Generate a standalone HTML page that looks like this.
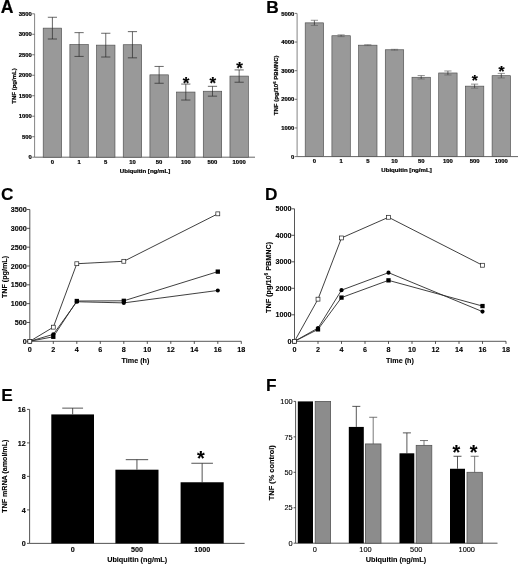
<!DOCTYPE html>
<html lang="en">
<head>
<meta charset="utf-8">
<title>Figure</title>
<style>
html,body{margin:0;padding:0;background:#fff;}
body{width:520px;height:565px;overflow:hidden;}
svg{display:block;}
svg text{font-family:"Liberation Sans", Arial, sans-serif;fill:#000;}
svg .ab text{stroke:#000;stroke-width:0.22px;}
svg .cf text{stroke:#000;stroke-width:0.12px;}
</style>
</head>
<body>
<svg width="520" height="565" viewBox="0 0 520 565">
<rect x="0" y="0" width="520" height="565" fill="#ffffff"/>
<g filter="url(#soft)">
<g class="ab">
<text x="0.70" y="13.20" font-size="17.6" font-weight="bold" text-anchor="start">A</text>
<line x1="34.60" y1="13.80" x2="34.60" y2="157.20" stroke="#777" stroke-width="0.9"/>
<line x1="34.60" y1="157.20" x2="255.00" y2="157.20" stroke="#555" stroke-width="0.9"/>
<line x1="32.20" y1="157.20" x2="34.60" y2="157.20" stroke="#555" stroke-width="0.8"/>
<text x="31.90" y="159.30" font-size="5.9" font-weight="bold" text-anchor="end">0</text>
<line x1="32.20" y1="136.71" x2="34.60" y2="136.71" stroke="#555" stroke-width="0.8"/>
<text x="31.90" y="138.81" font-size="5.9" font-weight="bold" text-anchor="end">500</text>
<line x1="32.20" y1="116.23" x2="34.60" y2="116.23" stroke="#555" stroke-width="0.8"/>
<text x="31.90" y="118.33" font-size="5.9" font-weight="bold" text-anchor="end">1000</text>
<line x1="32.20" y1="95.74" x2="34.60" y2="95.74" stroke="#555" stroke-width="0.8"/>
<text x="31.90" y="97.84" font-size="5.9" font-weight="bold" text-anchor="end">1500</text>
<line x1="32.20" y1="75.26" x2="34.60" y2="75.26" stroke="#555" stroke-width="0.8"/>
<text x="31.90" y="77.36" font-size="5.9" font-weight="bold" text-anchor="end">2000</text>
<line x1="32.20" y1="54.77" x2="34.60" y2="54.77" stroke="#555" stroke-width="0.8"/>
<text x="31.90" y="56.87" font-size="5.9" font-weight="bold" text-anchor="end">2500</text>
<line x1="32.20" y1="34.29" x2="34.60" y2="34.29" stroke="#555" stroke-width="0.8"/>
<text x="31.90" y="36.39" font-size="5.9" font-weight="bold" text-anchor="end">3000</text>
<line x1="32.20" y1="13.80" x2="34.60" y2="13.80" stroke="#555" stroke-width="0.8"/>
<text x="31.90" y="15.90" font-size="5.9" font-weight="bold" text-anchor="end">3500</text>
<rect x="43.20" y="28.14" width="18.40" height="129.06" fill="#999999" stroke="#4d4d4d" stroke-width="0.65"/>
<line x1="52.40" y1="17.28" x2="52.40" y2="39.00" stroke="#2a2a2a" stroke-width="0.7"/>
<line x1="47.80" y1="17.28" x2="57.00" y2="17.28" stroke="#2a2a2a" stroke-width="0.7"/>
<line x1="47.80" y1="39.00" x2="57.00" y2="39.00" stroke="#2a2a2a" stroke-width="0.7"/>
<text x="52.40" y="163.60" font-size="5.9" font-weight="bold" text-anchor="middle">0</text>
<rect x="69.88" y="44.53" width="18.40" height="112.67" fill="#999999" stroke="#4d4d4d" stroke-width="0.65"/>
<line x1="79.08" y1="32.65" x2="79.08" y2="56.41" stroke="#2a2a2a" stroke-width="0.7"/>
<line x1="74.48" y1="32.65" x2="83.68" y2="32.65" stroke="#2a2a2a" stroke-width="0.7"/>
<line x1="74.48" y1="56.41" x2="83.68" y2="56.41" stroke="#2a2a2a" stroke-width="0.7"/>
<text x="79.08" y="163.60" font-size="5.9" font-weight="bold" text-anchor="middle">1</text>
<rect x="96.56" y="45.14" width="18.40" height="112.06" fill="#999999" stroke="#4d4d4d" stroke-width="0.65"/>
<line x1="105.76" y1="33.26" x2="105.76" y2="57.02" stroke="#2a2a2a" stroke-width="0.7"/>
<line x1="101.16" y1="33.26" x2="110.36" y2="33.26" stroke="#2a2a2a" stroke-width="0.7"/>
<line x1="101.16" y1="57.02" x2="110.36" y2="57.02" stroke="#2a2a2a" stroke-width="0.7"/>
<text x="105.76" y="163.60" font-size="5.9" font-weight="bold" text-anchor="middle">5</text>
<rect x="123.24" y="44.73" width="18.40" height="112.47" fill="#999999" stroke="#4d4d4d" stroke-width="0.65"/>
<line x1="132.44" y1="31.62" x2="132.44" y2="57.84" stroke="#2a2a2a" stroke-width="0.7"/>
<line x1="127.84" y1="31.62" x2="137.04" y2="31.62" stroke="#2a2a2a" stroke-width="0.7"/>
<line x1="127.84" y1="57.84" x2="137.04" y2="57.84" stroke="#2a2a2a" stroke-width="0.7"/>
<text x="132.44" y="163.60" font-size="5.9" font-weight="bold" text-anchor="middle">10</text>
<rect x="149.92" y="74.85" width="18.40" height="82.35" fill="#999999" stroke="#4d4d4d" stroke-width="0.65"/>
<line x1="159.12" y1="66.45" x2="159.12" y2="83.25" stroke="#2a2a2a" stroke-width="0.7"/>
<line x1="154.52" y1="66.45" x2="163.72" y2="66.45" stroke="#2a2a2a" stroke-width="0.7"/>
<line x1="154.52" y1="83.25" x2="163.72" y2="83.25" stroke="#2a2a2a" stroke-width="0.7"/>
<text x="159.12" y="163.60" font-size="5.9" font-weight="bold" text-anchor="middle">50</text>
<rect x="176.60" y="92.06" width="18.40" height="65.14" fill="#999999" stroke="#4d4d4d" stroke-width="0.65"/>
<line x1="185.80" y1="84.07" x2="185.80" y2="100.04" stroke="#2a2a2a" stroke-width="0.7"/>
<line x1="181.20" y1="84.07" x2="190.40" y2="84.07" stroke="#2a2a2a" stroke-width="0.7"/>
<line x1="181.20" y1="100.04" x2="190.40" y2="100.04" stroke="#2a2a2a" stroke-width="0.7"/>
<text x="185.80" y="163.60" font-size="5.9" font-weight="bold" text-anchor="middle">100</text>
<text x="186.10" y="89.22" font-size="17" font-weight="bold" text-anchor="middle">*</text>
<rect x="203.28" y="91.24" width="18.40" height="65.96" fill="#999999" stroke="#4d4d4d" stroke-width="0.65"/>
<line x1="212.48" y1="86.32" x2="212.48" y2="96.15" stroke="#2a2a2a" stroke-width="0.7"/>
<line x1="207.88" y1="86.32" x2="217.08" y2="86.32" stroke="#2a2a2a" stroke-width="0.7"/>
<line x1="207.88" y1="96.15" x2="217.08" y2="96.15" stroke="#2a2a2a" stroke-width="0.7"/>
<text x="212.48" y="163.60" font-size="5.9" font-weight="bold" text-anchor="middle">500</text>
<text x="212.78" y="89.22" font-size="17" font-weight="bold" text-anchor="middle">*</text>
<rect x="229.96" y="76.08" width="18.40" height="81.12" fill="#999999" stroke="#4d4d4d" stroke-width="0.65"/>
<line x1="239.16" y1="69.93" x2="239.16" y2="82.22" stroke="#2a2a2a" stroke-width="0.7"/>
<line x1="234.56" y1="69.93" x2="243.76" y2="69.93" stroke="#2a2a2a" stroke-width="0.7"/>
<line x1="234.56" y1="82.22" x2="243.76" y2="82.22" stroke="#2a2a2a" stroke-width="0.7"/>
<text x="239.16" y="163.60" font-size="5.9" font-weight="bold" text-anchor="middle">1000</text>
<text x="239.46" y="73.62" font-size="17" font-weight="bold" text-anchor="middle">*</text>
<text x="145.00" y="172.70" font-size="6.1" font-weight="bold" text-anchor="middle">Ubiquitin [ng/mL]</text>
<text x="16.20" y="86.00" font-size="6.05" font-weight="bold" text-anchor="middle" transform="rotate(-90 16.20 86.00)">TNF (pg/mL)</text>
<text x="266.30" y="13.20" font-size="17.3" font-weight="bold" text-anchor="start">B</text>
<line x1="297.10" y1="13.50" x2="297.10" y2="156.60" stroke="#777" stroke-width="0.9"/>
<line x1="297.10" y1="156.60" x2="518.00" y2="156.60" stroke="#555" stroke-width="0.9"/>
<line x1="294.70" y1="156.60" x2="297.10" y2="156.60" stroke="#555" stroke-width="0.8"/>
<text x="294.40" y="158.70" font-size="5.9" font-weight="bold" text-anchor="end">0</text>
<line x1="294.70" y1="127.96" x2="297.10" y2="127.96" stroke="#555" stroke-width="0.8"/>
<text x="294.40" y="130.06" font-size="5.9" font-weight="bold" text-anchor="end">1000</text>
<line x1="294.70" y1="99.32" x2="297.10" y2="99.32" stroke="#555" stroke-width="0.8"/>
<text x="294.40" y="101.42" font-size="5.9" font-weight="bold" text-anchor="end">2000</text>
<line x1="294.70" y1="70.68" x2="297.10" y2="70.68" stroke="#555" stroke-width="0.8"/>
<text x="294.40" y="72.78" font-size="5.9" font-weight="bold" text-anchor="end">3000</text>
<line x1="294.70" y1="42.04" x2="297.10" y2="42.04" stroke="#555" stroke-width="0.8"/>
<text x="294.40" y="44.14" font-size="5.9" font-weight="bold" text-anchor="end">4000</text>
<line x1="294.70" y1="13.40" x2="297.10" y2="13.40" stroke="#555" stroke-width="0.8"/>
<text x="294.40" y="15.50" font-size="5.9" font-weight="bold" text-anchor="end">5000</text>
<rect x="305.20" y="22.85" width="18.40" height="133.75" fill="#999999" stroke="#4d4d4d" stroke-width="0.65"/>
<line x1="314.40" y1="20.27" x2="314.40" y2="25.43" stroke="#2a2a2a" stroke-width="0.7"/>
<line x1="310.80" y1="20.27" x2="318.00" y2="20.27" stroke="#666" stroke-width="0.7"/>
<line x1="310.80" y1="25.43" x2="318.00" y2="25.43" stroke="#666" stroke-width="0.7"/>
<text x="314.40" y="163.00" font-size="5.9" font-weight="bold" text-anchor="middle">0</text>
<rect x="331.90" y="35.74" width="18.40" height="120.86" fill="#999999" stroke="#4d4d4d" stroke-width="0.65"/>
<line x1="341.10" y1="34.88" x2="341.10" y2="36.60" stroke="#2a2a2a" stroke-width="0.7"/>
<line x1="337.50" y1="34.88" x2="344.70" y2="34.88" stroke="#666" stroke-width="0.7"/>
<line x1="337.50" y1="36.60" x2="344.70" y2="36.60" stroke="#666" stroke-width="0.7"/>
<text x="341.10" y="163.00" font-size="5.9" font-weight="bold" text-anchor="middle">1</text>
<rect x="358.60" y="45.19" width="18.40" height="111.41" fill="#999999" stroke="#4d4d4d" stroke-width="0.65"/>
<line x1="367.80" y1="44.76" x2="367.80" y2="45.62" stroke="#2a2a2a" stroke-width="0.7"/>
<line x1="364.20" y1="44.76" x2="371.40" y2="44.76" stroke="#666" stroke-width="0.7"/>
<line x1="364.20" y1="45.62" x2="371.40" y2="45.62" stroke="#666" stroke-width="0.7"/>
<text x="367.80" y="163.00" font-size="5.9" font-weight="bold" text-anchor="middle">5</text>
<rect x="385.30" y="49.77" width="18.40" height="106.83" fill="#999999" stroke="#4d4d4d" stroke-width="0.65"/>
<line x1="394.50" y1="49.34" x2="394.50" y2="50.20" stroke="#2a2a2a" stroke-width="0.7"/>
<line x1="390.90" y1="49.34" x2="398.10" y2="49.34" stroke="#666" stroke-width="0.7"/>
<line x1="390.90" y1="50.20" x2="398.10" y2="50.20" stroke="#666" stroke-width="0.7"/>
<text x="394.50" y="163.00" font-size="5.9" font-weight="bold" text-anchor="middle">10</text>
<rect x="412.00" y="77.27" width="18.40" height="79.33" fill="#999999" stroke="#4d4d4d" stroke-width="0.65"/>
<line x1="421.20" y1="75.55" x2="421.20" y2="78.99" stroke="#2a2a2a" stroke-width="0.7"/>
<line x1="417.60" y1="75.55" x2="424.80" y2="75.55" stroke="#666" stroke-width="0.7"/>
<line x1="417.60" y1="78.99" x2="424.80" y2="78.99" stroke="#666" stroke-width="0.7"/>
<text x="421.20" y="163.00" font-size="5.9" font-weight="bold" text-anchor="middle">50</text>
<rect x="438.70" y="72.97" width="18.40" height="83.63" fill="#999999" stroke="#4d4d4d" stroke-width="0.65"/>
<line x1="447.90" y1="70.97" x2="447.90" y2="74.98" stroke="#2a2a2a" stroke-width="0.7"/>
<line x1="444.30" y1="70.97" x2="451.50" y2="70.97" stroke="#666" stroke-width="0.7"/>
<line x1="444.30" y1="74.98" x2="451.50" y2="74.98" stroke="#666" stroke-width="0.7"/>
<text x="447.90" y="163.00" font-size="5.9" font-weight="bold" text-anchor="middle">100</text>
<rect x="465.40" y="86.15" width="18.40" height="70.45" fill="#999999" stroke="#4d4d4d" stroke-width="0.65"/>
<line x1="474.60" y1="84.14" x2="474.60" y2="88.15" stroke="#2a2a2a" stroke-width="0.7"/>
<line x1="471.00" y1="84.14" x2="478.20" y2="84.14" stroke="#666" stroke-width="0.7"/>
<line x1="471.00" y1="88.15" x2="478.20" y2="88.15" stroke="#666" stroke-width="0.7"/>
<text x="474.60" y="163.00" font-size="5.9" font-weight="bold" text-anchor="middle">500</text>
<text x="474.70" y="85.14" font-size="15.5" font-weight="bold" text-anchor="middle">*</text>
<rect x="492.10" y="75.69" width="18.40" height="80.91" fill="#999999" stroke="#4d4d4d" stroke-width="0.65"/>
<line x1="501.30" y1="73.40" x2="501.30" y2="77.98" stroke="#2a2a2a" stroke-width="0.7"/>
<line x1="497.70" y1="73.40" x2="504.90" y2="73.40" stroke="#666" stroke-width="0.7"/>
<line x1="497.70" y1="77.98" x2="504.90" y2="77.98" stroke="#666" stroke-width="0.7"/>
<text x="501.30" y="163.00" font-size="5.9" font-weight="bold" text-anchor="middle">1000</text>
<text x="501.40" y="75.64" font-size="15.5" font-weight="bold" text-anchor="middle">*</text>
<text x="406.50" y="172.40" font-size="6.1" font-weight="bold" text-anchor="middle">Ubiquitin [ng/mL]</text>
<text x="278" y="85.3" font-size="6.1" font-weight="bold" text-anchor="middle" transform="rotate(-90 278 85.3)">TNF (pg/10<tspan font-size="4.2" dy="-2.2">6</tspan><tspan dy="2.2"> PBMNC)</tspan></text>
</g>
<g class="cf">
<text x="1.00" y="200.20" font-size="17.3" font-weight="bold" text-anchor="start">C</text>
<line x1="29.80" y1="209.50" x2="29.80" y2="341.30" stroke="#2a2a2a" stroke-width="0.8"/>
<line x1="29.80" y1="341.30" x2="241.30" y2="341.30" stroke="#2a2a2a" stroke-width="0.8"/>
<line x1="26.80" y1="341.30" x2="29.80" y2="341.30" stroke="#2a2a2a" stroke-width="0.8"/>
<text x="26.80" y="343.90" font-size="7.2" font-weight="bold" text-anchor="end">0</text>
<line x1="26.80" y1="322.47" x2="29.80" y2="322.47" stroke="#2a2a2a" stroke-width="0.8"/>
<text x="26.80" y="325.07" font-size="7.2" font-weight="bold" text-anchor="end">500</text>
<line x1="26.80" y1="303.64" x2="29.80" y2="303.64" stroke="#2a2a2a" stroke-width="0.8"/>
<text x="26.80" y="306.24" font-size="7.2" font-weight="bold" text-anchor="end">1000</text>
<line x1="26.80" y1="284.81" x2="29.80" y2="284.81" stroke="#2a2a2a" stroke-width="0.8"/>
<text x="26.80" y="287.41" font-size="7.2" font-weight="bold" text-anchor="end">1500</text>
<line x1="26.80" y1="265.99" x2="29.80" y2="265.99" stroke="#2a2a2a" stroke-width="0.8"/>
<text x="26.80" y="268.59" font-size="7.2" font-weight="bold" text-anchor="end">2000</text>
<line x1="26.80" y1="247.16" x2="29.80" y2="247.16" stroke="#2a2a2a" stroke-width="0.8"/>
<text x="26.80" y="249.76" font-size="7.2" font-weight="bold" text-anchor="end">2500</text>
<line x1="26.80" y1="228.33" x2="29.80" y2="228.33" stroke="#2a2a2a" stroke-width="0.8"/>
<text x="26.80" y="230.93" font-size="7.2" font-weight="bold" text-anchor="end">3000</text>
<line x1="26.80" y1="209.50" x2="29.80" y2="209.50" stroke="#2a2a2a" stroke-width="0.8"/>
<text x="26.80" y="212.10" font-size="7.2" font-weight="bold" text-anchor="end">3500</text>
<line x1="29.80" y1="341.30" x2="29.80" y2="343.90" stroke="#2a2a2a" stroke-width="0.8"/>
<text x="29.80" y="351.70" font-size="7.2" font-weight="bold" text-anchor="middle">0</text>
<line x1="53.30" y1="341.30" x2="53.30" y2="343.90" stroke="#2a2a2a" stroke-width="0.8"/>
<text x="53.30" y="351.70" font-size="7.2" font-weight="bold" text-anchor="middle">2</text>
<line x1="76.80" y1="341.30" x2="76.80" y2="343.90" stroke="#2a2a2a" stroke-width="0.8"/>
<text x="76.80" y="351.70" font-size="7.2" font-weight="bold" text-anchor="middle">4</text>
<line x1="100.30" y1="341.30" x2="100.30" y2="343.90" stroke="#2a2a2a" stroke-width="0.8"/>
<text x="100.30" y="351.70" font-size="7.2" font-weight="bold" text-anchor="middle">6</text>
<line x1="123.80" y1="341.30" x2="123.80" y2="343.90" stroke="#2a2a2a" stroke-width="0.8"/>
<text x="123.80" y="351.70" font-size="7.2" font-weight="bold" text-anchor="middle">8</text>
<line x1="147.30" y1="341.30" x2="147.30" y2="343.90" stroke="#2a2a2a" stroke-width="0.8"/>
<text x="147.30" y="351.70" font-size="7.2" font-weight="bold" text-anchor="middle">10</text>
<line x1="170.80" y1="341.30" x2="170.80" y2="343.90" stroke="#2a2a2a" stroke-width="0.8"/>
<text x="170.80" y="351.70" font-size="7.2" font-weight="bold" text-anchor="middle">12</text>
<line x1="194.30" y1="341.30" x2="194.30" y2="343.90" stroke="#2a2a2a" stroke-width="0.8"/>
<text x="194.30" y="351.70" font-size="7.2" font-weight="bold" text-anchor="middle">14</text>
<line x1="217.80" y1="341.30" x2="217.80" y2="343.90" stroke="#2a2a2a" stroke-width="0.8"/>
<text x="217.80" y="351.70" font-size="7.2" font-weight="bold" text-anchor="middle">16</text>
<line x1="241.30" y1="341.30" x2="241.30" y2="343.90" stroke="#2a2a2a" stroke-width="0.8"/>
<text x="241.30" y="351.70" font-size="7.2" font-weight="bold" text-anchor="middle">18</text>
<text x="135.50" y="363.10" font-size="7.2" font-weight="bold" text-anchor="middle">Time (h)</text>
<polyline fill="none" stroke="#2a2a2a" stroke-width="0.9" points="29.80,341.30 53.30,334.33 76.80,301.76 123.80,302.89 217.80,290.46"/>
<polyline fill="none" stroke="#2a2a2a" stroke-width="0.9" points="29.80,341.30 53.30,336.78 76.80,301.01 123.80,300.82 217.80,271.63"/>
<polyline fill="none" stroke="#2a2a2a" stroke-width="0.9" points="29.80,341.30 53.30,327.18 76.80,263.73 123.80,261.28 217.80,213.83"/>
<circle cx="29.80" cy="341.30" r="2.05" fill="#000"/>
<circle cx="53.30" cy="334.33" r="2.05" fill="#000"/>
<circle cx="76.80" cy="301.76" r="2.05" fill="#000"/>
<circle cx="123.80" cy="302.89" r="2.05" fill="#000"/>
<circle cx="217.80" cy="290.46" r="2.05" fill="#000"/>
<rect x="27.65" y="339.15" width="4.30" height="4.30" fill="#000"/>
<rect x="51.15" y="334.63" width="4.30" height="4.30" fill="#000"/>
<rect x="74.65" y="298.86" width="4.30" height="4.30" fill="#000"/>
<rect x="121.65" y="298.67" width="4.30" height="4.30" fill="#000"/>
<rect x="215.65" y="269.48" width="4.30" height="4.30" fill="#000"/>
<rect x="27.85" y="339.35" width="3.90" height="3.90" fill="#fff" stroke="#222" stroke-width="0.7"/>
<rect x="51.35" y="325.23" width="3.90" height="3.90" fill="#fff" stroke="#222" stroke-width="0.7"/>
<rect x="74.85" y="261.78" width="3.90" height="3.90" fill="#fff" stroke="#222" stroke-width="0.7"/>
<rect x="121.85" y="259.33" width="3.90" height="3.90" fill="#fff" stroke="#222" stroke-width="0.7"/>
<rect x="215.85" y="211.88" width="3.90" height="3.90" fill="#fff" stroke="#222" stroke-width="0.7"/>
<text x="7.00" y="277.00" font-size="7.15" font-weight="bold" text-anchor="middle" transform="rotate(-90 7.00 277.00)">TNF (pg/mL)</text>
<text x="265.00" y="200.20" font-size="17.3" font-weight="bold" text-anchor="start">D</text>
<line x1="294.50" y1="208.80" x2="294.50" y2="341.30" stroke="#2a2a2a" stroke-width="0.8"/>
<line x1="294.50" y1="341.30" x2="506.00" y2="341.30" stroke="#2a2a2a" stroke-width="0.8"/>
<line x1="291.50" y1="341.30" x2="294.50" y2="341.30" stroke="#2a2a2a" stroke-width="0.8"/>
<text x="291.50" y="343.90" font-size="7.2" font-weight="bold" text-anchor="end">0</text>
<line x1="291.50" y1="314.80" x2="294.50" y2="314.80" stroke="#2a2a2a" stroke-width="0.8"/>
<text x="291.50" y="317.40" font-size="7.2" font-weight="bold" text-anchor="end">1000</text>
<line x1="291.50" y1="288.30" x2="294.50" y2="288.30" stroke="#2a2a2a" stroke-width="0.8"/>
<text x="291.50" y="290.90" font-size="7.2" font-weight="bold" text-anchor="end">2000</text>
<line x1="291.50" y1="261.80" x2="294.50" y2="261.80" stroke="#2a2a2a" stroke-width="0.8"/>
<text x="291.50" y="264.40" font-size="7.2" font-weight="bold" text-anchor="end">3000</text>
<line x1="291.50" y1="235.30" x2="294.50" y2="235.30" stroke="#2a2a2a" stroke-width="0.8"/>
<text x="291.50" y="237.90" font-size="7.2" font-weight="bold" text-anchor="end">4000</text>
<line x1="291.50" y1="208.80" x2="294.50" y2="208.80" stroke="#2a2a2a" stroke-width="0.8"/>
<text x="291.50" y="211.40" font-size="7.2" font-weight="bold" text-anchor="end">5000</text>
<line x1="294.50" y1="341.30" x2="294.50" y2="343.90" stroke="#2a2a2a" stroke-width="0.8"/>
<text x="294.50" y="351.70" font-size="7.2" font-weight="bold" text-anchor="middle">0</text>
<line x1="318.00" y1="341.30" x2="318.00" y2="343.90" stroke="#2a2a2a" stroke-width="0.8"/>
<text x="318.00" y="351.70" font-size="7.2" font-weight="bold" text-anchor="middle">2</text>
<line x1="341.50" y1="341.30" x2="341.50" y2="343.90" stroke="#2a2a2a" stroke-width="0.8"/>
<text x="341.50" y="351.70" font-size="7.2" font-weight="bold" text-anchor="middle">4</text>
<line x1="365.00" y1="341.30" x2="365.00" y2="343.90" stroke="#2a2a2a" stroke-width="0.8"/>
<text x="365.00" y="351.70" font-size="7.2" font-weight="bold" text-anchor="middle">6</text>
<line x1="388.50" y1="341.30" x2="388.50" y2="343.90" stroke="#2a2a2a" stroke-width="0.8"/>
<text x="388.50" y="351.70" font-size="7.2" font-weight="bold" text-anchor="middle">8</text>
<line x1="412.00" y1="341.30" x2="412.00" y2="343.90" stroke="#2a2a2a" stroke-width="0.8"/>
<text x="412.00" y="351.70" font-size="7.2" font-weight="bold" text-anchor="middle">10</text>
<line x1="435.50" y1="341.30" x2="435.50" y2="343.90" stroke="#2a2a2a" stroke-width="0.8"/>
<text x="435.50" y="351.70" font-size="7.2" font-weight="bold" text-anchor="middle">12</text>
<line x1="459.00" y1="341.30" x2="459.00" y2="343.90" stroke="#2a2a2a" stroke-width="0.8"/>
<text x="459.00" y="351.70" font-size="7.2" font-weight="bold" text-anchor="middle">14</text>
<line x1="482.50" y1="341.30" x2="482.50" y2="343.90" stroke="#2a2a2a" stroke-width="0.8"/>
<text x="482.50" y="351.70" font-size="7.2" font-weight="bold" text-anchor="middle">16</text>
<line x1="506.00" y1="341.30" x2="506.00" y2="343.90" stroke="#2a2a2a" stroke-width="0.8"/>
<text x="506.00" y="351.70" font-size="7.2" font-weight="bold" text-anchor="middle">18</text>
<text x="400.00" y="363.10" font-size="7.2" font-weight="bold" text-anchor="middle">Time (h)</text>
<polyline fill="none" stroke="#2a2a2a" stroke-width="0.9" points="294.50,341.30 318.00,329.38 341.50,297.57 388.50,280.35 482.50,306.06"/>
<polyline fill="none" stroke="#2a2a2a" stroke-width="0.9" points="294.50,341.30 318.00,328.05 341.50,290.16 388.50,272.67 482.50,311.62"/>
<polyline fill="none" stroke="#2a2a2a" stroke-width="0.9" points="294.50,341.30 318.00,299.17 341.50,237.95 388.50,217.28 482.50,265.25"/>
<rect x="292.35" y="339.15" width="4.30" height="4.30" fill="#000"/>
<rect x="315.85" y="327.23" width="4.30" height="4.30" fill="#000"/>
<rect x="339.35" y="295.43" width="4.30" height="4.30" fill="#000"/>
<rect x="386.35" y="278.20" width="4.30" height="4.30" fill="#000"/>
<rect x="480.35" y="303.91" width="4.30" height="4.30" fill="#000"/>
<circle cx="294.50" cy="341.30" r="2.05" fill="#000"/>
<circle cx="318.00" cy="328.05" r="2.05" fill="#000"/>
<circle cx="341.50" cy="290.16" r="2.05" fill="#000"/>
<circle cx="388.50" cy="272.67" r="2.05" fill="#000"/>
<circle cx="482.50" cy="311.62" r="2.05" fill="#000"/>
<rect x="292.55" y="339.35" width="3.90" height="3.90" fill="#fff" stroke="#222" stroke-width="0.7"/>
<rect x="316.05" y="297.22" width="3.90" height="3.90" fill="#fff" stroke="#222" stroke-width="0.7"/>
<rect x="339.55" y="236.00" width="3.90" height="3.90" fill="#fff" stroke="#222" stroke-width="0.7"/>
<rect x="386.55" y="215.33" width="3.90" height="3.90" fill="#fff" stroke="#222" stroke-width="0.7"/>
<rect x="480.55" y="263.30" width="3.90" height="3.90" fill="#fff" stroke="#222" stroke-width="0.7"/>
<text x="271.3" y="277.4" font-size="7.25" font-weight="bold" text-anchor="middle" transform="rotate(-90 271.3 277.4)">TNF (pg/10<tspan font-size="4.8" dy="-2.8">6</tspan><tspan dy="2.8"> PBMNC)</tspan></text>
<text x="1.20" y="400.60" font-size="17.3" font-weight="bold" text-anchor="start">E</text>
<line x1="29.60" y1="409.40" x2="29.60" y2="543.40" stroke="#2a2a2a" stroke-width="0.8"/>
<line x1="29.60" y1="543.40" x2="244.60" y2="543.40" stroke="#2a2a2a" stroke-width="0.8"/>
<line x1="27.00" y1="543.40" x2="29.60" y2="543.40" stroke="#2a2a2a" stroke-width="0.8"/>
<text x="25.70" y="546.00" font-size="7.2" font-weight="bold" text-anchor="end">0</text>
<line x1="27.00" y1="509.90" x2="29.60" y2="509.90" stroke="#2a2a2a" stroke-width="0.8"/>
<text x="25.70" y="512.50" font-size="7.2" font-weight="bold" text-anchor="end">4</text>
<line x1="27.00" y1="476.40" x2="29.60" y2="476.40" stroke="#2a2a2a" stroke-width="0.8"/>
<text x="25.70" y="479.00" font-size="7.2" font-weight="bold" text-anchor="end">8</text>
<line x1="27.00" y1="442.90" x2="29.60" y2="442.90" stroke="#2a2a2a" stroke-width="0.8"/>
<text x="25.70" y="445.50" font-size="7.2" font-weight="bold" text-anchor="end">12</text>
<line x1="27.00" y1="409.40" x2="29.60" y2="409.40" stroke="#2a2a2a" stroke-width="0.8"/>
<text x="25.70" y="412.00" font-size="7.2" font-weight="bold" text-anchor="end">16</text>
<rect x="51.30" y="414.42" width="42.70" height="128.98" fill="#000"/>
<line x1="72.65" y1="408.14" x2="72.65" y2="414.42" stroke="#2a2a2a" stroke-width="0.8"/>
<line x1="62.25" y1="408.14" x2="83.05" y2="408.14" stroke="#2a2a2a" stroke-width="0.8"/>
<text x="72.65" y="551.50" font-size="7.2" font-weight="bold" text-anchor="middle">0</text>
<rect x="115.40" y="469.70" width="43.10" height="73.70" fill="#000"/>
<line x1="136.95" y1="459.65" x2="136.95" y2="469.70" stroke="#2a2a2a" stroke-width="0.8"/>
<line x1="125.75" y1="459.65" x2="148.15" y2="459.65" stroke="#2a2a2a" stroke-width="0.8"/>
<text x="136.95" y="551.50" font-size="7.2" font-weight="bold" text-anchor="middle">500</text>
<rect x="180.60" y="482.26" width="43.10" height="61.14" fill="#000"/>
<line x1="202.15" y1="463.25" x2="202.15" y2="482.26" stroke="#2a2a2a" stroke-width="0.8"/>
<line x1="191.35" y1="463.25" x2="212.95" y2="463.25" stroke="#2a2a2a" stroke-width="0.8"/>
<text x="202.15" y="551.50" font-size="7.2" font-weight="bold" text-anchor="middle">1000</text>
<text x="200.80" y="464.59" font-size="19.8" font-weight="bold" text-anchor="middle">*</text>
<text x="137.20" y="561.50" font-size="7.25" font-weight="bold" text-anchor="middle">Ubiquitin (ng/mL)</text>
<text x="6.90" y="476.20" font-size="7.1" font-weight="bold" text-anchor="middle" transform="rotate(-90 6.90 476.20)">TNF mRNA (amol/mL)</text>
<text x="266.00" y="391.30" font-size="17.3" font-weight="bold" text-anchor="start">F</text>
<line x1="295.60" y1="401.30" x2="295.60" y2="543.20" stroke="#2a2a2a" stroke-width="0.8"/>
<line x1="295.60" y1="543.20" x2="497.50" y2="543.20" stroke="#2a2a2a" stroke-width="0.8"/>
<line x1="293.60" y1="543.20" x2="295.60" y2="543.20" stroke="#2a2a2a" stroke-width="0.8"/>
<text x="292.70" y="545.90" font-size="7.4" font-weight="normal" text-anchor="end">0</text>
<line x1="293.60" y1="507.75" x2="295.60" y2="507.75" stroke="#2a2a2a" stroke-width="0.8"/>
<text x="292.70" y="510.45" font-size="7.4" font-weight="normal" text-anchor="end">25</text>
<line x1="293.60" y1="472.30" x2="295.60" y2="472.30" stroke="#2a2a2a" stroke-width="0.8"/>
<text x="292.70" y="475.00" font-size="7.4" font-weight="normal" text-anchor="end">50</text>
<line x1="293.60" y1="436.85" x2="295.60" y2="436.85" stroke="#2a2a2a" stroke-width="0.8"/>
<text x="292.70" y="439.55" font-size="7.4" font-weight="normal" text-anchor="end">75</text>
<line x1="293.60" y1="401.40" x2="295.60" y2="401.40" stroke="#2a2a2a" stroke-width="0.8"/>
<text x="292.70" y="404.10" font-size="7.4" font-weight="normal" text-anchor="end">100</text>
<rect x="297.80" y="401.40" width="15.20" height="141.80" fill="#000"/>
<rect x="315.20" y="401.40" width="15.40" height="141.80" fill="#8c8c8c" stroke="#555" stroke-width="0.8"/>
<text x="314.80" y="551.50" font-size="7.4" font-weight="normal" text-anchor="middle">0</text>
<rect x="348.80" y="426.92" width="15.00" height="116.28" fill="#000"/>
<rect x="365.40" y="443.94" width="15.60" height="99.26" fill="#8c8c8c" stroke="#555" stroke-width="0.8"/>
<line x1="356.30" y1="406.36" x2="356.30" y2="426.92" stroke="#2a2a2a" stroke-width="0.8"/>
<line x1="352.30" y1="406.36" x2="360.30" y2="406.36" stroke="#2a2a2a" stroke-width="0.8"/>
<line x1="373.20" y1="417.28" x2="373.20" y2="443.94" stroke="#555" stroke-width="0.8"/>
<line x1="369.20" y1="417.28" x2="377.20" y2="417.28" stroke="#555" stroke-width="0.8"/>
<text x="365.50" y="551.50" font-size="7.4" font-weight="normal" text-anchor="middle">100</text>
<rect x="399.50" y="453.30" width="14.80" height="89.90" fill="#000"/>
<rect x="416.20" y="445.36" width="15.60" height="97.84" fill="#8c8c8c" stroke="#555" stroke-width="0.8"/>
<line x1="406.90" y1="432.88" x2="406.90" y2="453.30" stroke="#2a2a2a" stroke-width="0.8"/>
<line x1="402.90" y1="432.88" x2="410.90" y2="432.88" stroke="#2a2a2a" stroke-width="0.8"/>
<line x1="424.00" y1="440.54" x2="424.00" y2="445.36" stroke="#555" stroke-width="0.8"/>
<line x1="420.00" y1="440.54" x2="428.00" y2="440.54" stroke="#555" stroke-width="0.8"/>
<text x="416.25" y="551.50" font-size="7.4" font-weight="normal" text-anchor="middle">500</text>
<rect x="450.00" y="468.76" width="15.00" height="74.44" fill="#000"/>
<rect x="467.00" y="472.30" width="15.30" height="70.90" fill="#8c8c8c" stroke="#555" stroke-width="0.8"/>
<line x1="457.50" y1="456.28" x2="457.50" y2="468.76" stroke="#2a2a2a" stroke-width="0.8"/>
<line x1="453.50" y1="456.28" x2="461.50" y2="456.28" stroke="#2a2a2a" stroke-width="0.8"/>
<line x1="474.65" y1="456.28" x2="474.65" y2="472.30" stroke="#555" stroke-width="0.8"/>
<line x1="470.65" y1="456.28" x2="478.65" y2="456.28" stroke="#555" stroke-width="0.8"/>
<text x="466.75" y="551.50" font-size="7.4" font-weight="normal" text-anchor="middle">1000</text>
<text x="456.40" y="459.00" font-size="19.8" font-weight="bold" text-anchor="middle">*</text>
<text x="473.70" y="459.00" font-size="19.8" font-weight="bold" text-anchor="middle">*</text>
<text x="396.00" y="561.70" font-size="7.3" font-weight="bold" text-anchor="middle">Ubiquitin (ng/mL)</text>
<text x="274.40" y="472.70" font-size="7.4" font-weight="bold" text-anchor="middle" transform="rotate(-90 274.40 472.70)">TNF (% control)</text>
</g>
</g>
<defs><filter id="soft" x="0" y="0" width="520" height="565" filterUnits="userSpaceOnUse"><feGaussianBlur stdDeviation="0.2"/></filter></defs>
</svg>
</body>
</html>
